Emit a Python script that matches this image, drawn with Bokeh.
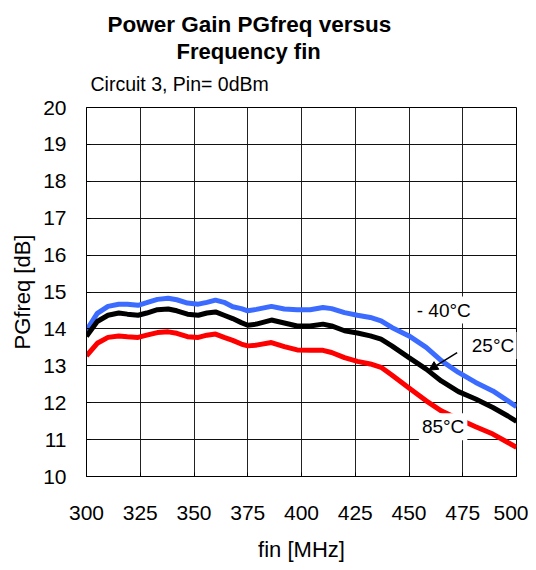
from bokeh.plotting import figure
from bokeh.models import Label, Arrow, NormalHead, Range1d, FixedTicker, ColumnDataSource, Title
from bokeh.embed import file_html
from bokeh.resources import INLINE

freq = [300, 305, 310, 315, 319, 324, 328, 333, 338, 342, 347, 352, 356, 360, 364, 368,
        372, 375, 379, 386, 392, 398, 404, 410, 414, 420, 426, 432, 437, 442, 450, 458,
        465, 473, 481, 489, 496, 500]
gain_m40 = [13.96, 14.42, 14.61, 14.67, 14.67, 14.64, 14.71, 14.80, 14.83, 14.79, 14.70, 14.67,
            14.72, 14.78, 14.72, 14.60, 14.55, 14.49, 14.53, 14.61, 14.54, 14.52, 14.52, 14.58,
            14.55, 14.44, 14.37, 14.31, 14.22, 14.04, 13.81, 13.50, 13.14, 12.82, 12.55, 12.32,
            12.05, 11.89]
gain_25 = [13.80, 14.20, 14.37, 14.43, 14.40, 14.37, 14.43, 14.52, 14.54, 14.49, 14.40, 14.37,
           14.43, 14.46, 14.37, 14.28, 14.17, 14.10, 14.13, 14.24, 14.16, 14.08, 14.08, 14.13,
           14.08, 13.95, 13.89, 13.81, 13.72, 13.54, 13.22, 12.91, 12.59, 12.30, 12.10, 11.87,
           11.64, 11.49]
gain_85 = [13.27, 13.61, 13.77, 13.81, 13.79, 13.77, 13.83, 13.90, 13.92, 13.88, 13.79, 13.77,
           13.83, 13.86, 13.77, 13.69, 13.59, 13.54, 13.56, 13.63, 13.52, 13.43, 13.42, 13.42,
           13.36, 13.22, 13.12, 13.05, 12.96, 12.75, 12.40, 12.05, 11.78, 11.56, 11.35, 11.15,
           10.92, 10.79]
x_ticks = [300, 325, 350, 375, 400, 425, 450, 475, 500]
y_ticks = [10, 11, 12, 13, 14, 15, 16, 17, 18, 19, 20]

FONT = "Liberation Sans"

p = figure(width=528, height=570, output_backend="svg", toolbar_location=None,
           x_range=Range1d(300, 500), y_range=Range1d(10, 20),
           min_border_left=86, min_border_right=12, min_border_top=107, min_border_bottom=94,
           background_fill_color="white", border_fill_color="white")

p.outline_line_color = "black"
p.outline_line_width = 1

for ax in (p.xaxis[0], p.yaxis[0]):
    ax.axis_line_color = "black"
    ax.major_tick_line_color = "black"
    ax.major_tick_in = 4
    ax.major_tick_out = 0
    ax.minor_tick_line_color = None
    ax.major_label_text_font = FONT
    ax.major_label_text_font_size = "21px"
    ax.major_label_text_color = "black"
    ax.axis_label_text_font = FONT
    ax.axis_label_text_font_size = "22px"
    ax.axis_label_text_font_style = "normal"
    ax.axis_label_text_color = "black"

p.xaxis.ticker = FixedTicker(ticks=x_ticks)
p.yaxis.ticker = FixedTicker(ticks=y_ticks)
p.xaxis.axis_label = "fin [MHz]"
p.yaxis.axis_label = "PGfreq [dB]"
p.xaxis.major_label_standoff = 29
p.xaxis.axis_label_standoff = 14
p.yaxis.major_label_standoff = 20
p.yaxis.axis_label_standoff = 5

p.xgrid.ticker = FixedTicker(ticks=x_ticks)
p.ygrid.ticker = FixedTicker(ticks=y_ticks)
p.xgrid.grid_line_color = "#222222"
p.ygrid.grid_line_color = "#111111"
p.xgrid.grid_line_width = 1
p.ygrid.grid_line_width = 1

src = ColumnDataSource(dict(freq=freq, m40=gain_m40, t25=gain_25, t85=gain_85))
p.line("freq", "m40", source=src, line_color="#3b6cff", line_width=5)
p.line("freq", "t25", source=src, line_color="black", line_width=5)
p.line("freq", "t85", source=src, line_color="#ff0000", line_width=5)

# series labels
for txt, x, y in [("- 40°C", 452.2, 14.51), ("25°C", 477.8, 13.55), ("85°C", 454.6, 11.35)]:
    p.add_layout(Label(x=x, y=y, text=txt, text_font=FONT, text_font_size="19px",
                       text_color="black", text_align="left", text_baseline="alphabetic",
                       background_fill_color="white", padding=3))

p.add_layout(Arrow(end=NormalHead(size=9, fill_color="black", line_color="black"),
                   x_start=472.4, y_start=13.36, x_end=459.2, y_end=12.88,
                   line_color="black", line_width=1.5))

# titles (added from the frame outward)
p.add_layout(Title(text="Circuit 3, Pin= 0dBm", align="left", offset=4, standoff=26,
                   text_font=FONT, text_font_size="19.5px", text_font_style="normal",
                   text_color="black"), "above")
p.add_layout(Title(text="Frequency fin", align="left", offset=90, standoff=-12,
                   text_font=FONT, text_font_size="22px", text_font_style="bold",
                   text_color="black"), "above")
p.add_layout(Title(text="Power Gain PGfreq versus", align="left", offset=21, standoff=12,
                   text_font=FONT, text_font_size="22.5px", text_font_style="bold",
                   text_color="black"), "above")

open("out.html", "w").write(file_html(p, INLINE))
